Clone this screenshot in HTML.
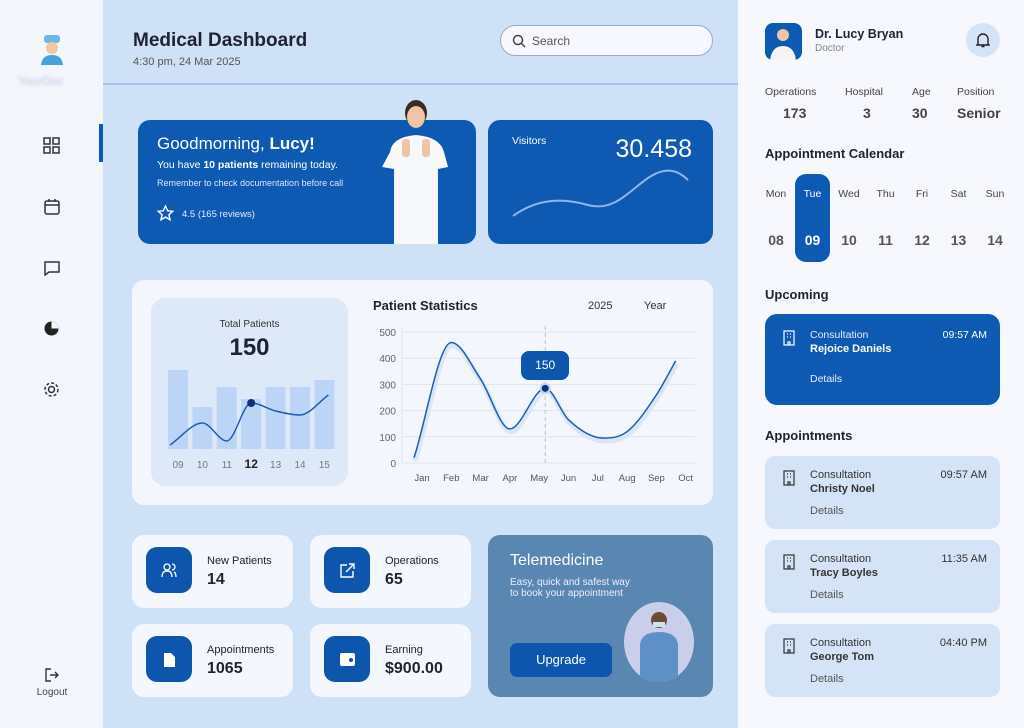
<!DOCTYPE html>
<html><head><meta charset="utf-8"><style>
*{box-sizing:border-box;margin:0;padding:0}
body{width:1024px;height:728px;overflow:hidden;background:#cfe1f6;font-family:"Liberation Sans",sans-serif;color:#1f2230;position:relative}
.a{position:absolute}
.card{position:absolute;border-radius:12px}
.w{background:#f4f7fe}
.blue{background:#0e59b1;color:#fff}
.ic{position:absolute;width:46px;height:46px;border-radius:11px;background:#0e55ad}
.lbl{font-size:11px;color:#222}
.val{font-size:16px;font-weight:bold;color:#1f2230}
.appt{position:absolute;left:765px;width:235px;height:73px;border-radius:10px;background:#d4e3f6}
.appt .t1{position:absolute;left:45px;top:13px;font-size:11px;color:#333}
.appt .t2{position:absolute;left:45px;top:27px;font-size:11px;font-weight:bold;color:#333}
.appt .tm{position:absolute;right:13px;top:13px;font-size:11px;color:#333}
.appt .d{position:absolute;left:45px;top:49px;font-size:11px;color:#555}
</style></head><body>
<!-- sidebar -->
<div class="a" style="left:0;top:0;width:103px;height:728px;background:#f4f6fd"></div>
<div class="a" style="left:39px;top:34px;width:24px;height:30px">
<svg width="26" height="32"><rect x="5" y="1" width="16" height="8" rx="3" fill="#6fb6e8"/><circle cx="13" cy="14" r="6" fill="#f0c9a0"/><path d="M2 31 Q3 21 13 21 Q23 21 24 31Z" fill="#4aa0dc"/></svg></div>
<div class="a" style="left:18px;top:74px;font-size:12px;color:#b8c6dc;filter:blur(1.5px)">YourDoc</div>
<div class="a" style="left:99px;top:124px;width:4px;height:38px;background:#0e59b1"></div>
<div class="a" style="left:43px;top:137px"><svg width="17" height="17" fill="none" stroke="#333" stroke-width="1.5"><rect x="1" y="1" width="6" height="6"/><rect x="10" y="1" width="6" height="6"/><rect x="1" y="10" width="6" height="6"/><rect x="10" y="10" width="6" height="6"/></svg></div>
<div class="a" style="left:44px;top:199px"><svg width="16" height="16" fill="none" stroke="#333" stroke-width="1.5"><rect x="1" y="2" width="14" height="13" rx="2"/><line x1="1" y1="6" x2="15" y2="6"/><line x1="5" y1="0" x2="5" y2="3"/><line x1="11" y1="0" x2="11" y2="3"/></svg></div>
<div class="a" style="left:44px;top:260px"><svg width="16" height="16" fill="none" stroke="#333" stroke-width="1.5"><path d="M1 2h14v10H5l-4 3z"/></svg></div>
<div class="a" style="left:44px;top:321px"><svg width="15" height="15"><circle cx="7.5" cy="7.5" r="7" fill="#222"/><path d="M7.5 0.5V7.5H14.5A7 7 0 0 0 7.5 0.5Z" fill="#f4f6fd"/></svg></div>
<div class="a" style="left:43px;top:381px"><svg width="17" height="17" fill="none" stroke="#333" stroke-width="1.5"><circle cx="8.5" cy="8.5" r="3"/><circle cx="8.5" cy="8.5" r="6.5" stroke-dasharray="3 2"/></svg></div>
<div class="a" style="left:34px;top:668px;width:36px;text-align:center;font-size:10px;color:#444"><svg width="14" height="14" fill="none" stroke="#333" stroke-width="1.4"><path d="M6 1H1v12h5M5 7h8M10 4l3 3-3 3"/></svg><div style="margin-top:2px">Logout</div></div>

<!-- header -->
<div class="a" style="left:133px;top:30px;font-size:19px;font-weight:bold;color:#1f2230">Medical Dashboard</div>
<div class="a" style="left:133px;top:56px;font-size:11px;color:#555">4:30 pm, 24 Mar 2025</div>
<div class="a" style="left:500px;top:25px;width:213px;height:31px;border-radius:16px;background:#f6f8fe;border:1px solid #9aa9bf">
<svg class="a" style="left:11px;top:8px" width="14" height="14" fill="none" stroke="#444" stroke-width="1.5"><circle cx="6" cy="6" r="4.5"/><line x1="9.5" y1="9.5" x2="13" y2="13"/></svg>
<span class="a" style="left:31px;top:8px;font-size:12px;color:#555">Search</span></div>
<div class="a" style="left:103px;top:83px;width:635px;height:2px;background:#a3c4e6"></div>

<!-- greeting -->
<div class="card blue" style="left:138px;top:120px;width:338px;height:124px">
<div class="a" style="left:19px;top:14px;font-size:17px">Goodmorning, <b>Lucy!</b></div>
<div class="a" style="left:19px;top:39px;font-size:10.5px">You have <b>10 patients</b> remaining today.</div>
<div class="a" style="left:19px;top:58px;font-size:9px;color:#dfe8f7">Remember to check documentation before call</div>
<svg class="a" style="left:19px;top:85px" width="17" height="17" fill="none" stroke="#fff" stroke-width="1.4"><path d="M8.5 1l2.2 4.8 5 .5-3.8 3.4 1.1 5-4.5-2.6-4.5 2.6 1.1-5L1.3 6.3l5-.5z"/></svg>
<div class="a" style="left:44px;top:89px;font-size:9.5px;color:#e4ecf8">4.5 (165 reviews)</div>
</div>
<div class="a" style="left:378px;top:97px;width:72px;height:147px">
<svg width="72" height="147"><ellipse cx="38" cy="16" rx="11" ry="13" fill="#3b2a22"/><ellipse cx="38" cy="20" rx="9" ry="11" fill="#f0c5a6"/><path d="M12 55 Q14 40 38 38 Q62 40 66 55 L70 70 L60 72 L60 147 H16 V72 L4 70Z" fill="#f7f8fa"/><rect x="24" y="42" width="8" height="18" rx="3" fill="#f0c5a6"/><rect x="44" y="42" width="8" height="18" rx="3" fill="#f0c5a6"/></svg></div>

<!-- visitors -->
<div class="card blue" style="left:488px;top:120px;width:225px;height:124px">
<div class="a" style="left:24px;top:15px;font-size:10.5px">Visitors</div>
<div class="a" style="right:21px;top:15px;font-size:25px">30.458</div>
<svg class="a" style="left:0;top:0" width="225" height="124"><path d="M25 96 C50 78 75 78 100 85 C125 92 140 72 160 58 C178 46 190 50 200 60" fill="none" stroke="#8fb6ea" stroke-width="2"/></svg>
</div>

<!-- stats card -->
<div class="card" style="left:132px;top:280px;width:581px;height:225px;background:#f4f6fd"></div>
<div class="card" style="left:151px;top:298px;width:197px;height:188px;background:#dde8f8;border-radius:14px">
<div class="a" style="left:0;width:197px;text-align:center;top:21px;font-size:10px;color:#333">Total Patients</div>
<div class="a" style="left:0;width:197px;text-align:center;top:36px;font-size:24px;font-weight:bold;color:#1f2230">150</div>
</div>
<svg class="a" style="left:0;top:0" width="1024" height="728" id="charts"></svg>
<div class="a" style="left:373px;top:298px;font-size:13px;font-weight:bold">Patient Statistics</div>
<div class="a" style="left:588px;top:300px;font-size:11px;color:#333">2025</div>
<div class="a" style="left:644px;top:300px;font-size:11px;color:#333">Year</div>
<div class="a" id="tip" style="width:48px;height:29px;border-radius:8px;background:#0e55ad;color:#fff;font-size:12px;text-align:center;line-height:29px"></div>

<!-- small stat cards -->
<div class="card w" style="left:132px;top:535px;width:161px;height:73px"><div class="ic" style="left:14px;top:12px"></div>
<svg class="a" style="left:29px;top:27px" width="16" height="16" fill="none" stroke="#fff" stroke-width="1.3"><circle cx="6" cy="5" r="3"/><path d="M1 15q0-6 5-6t5 6M11 2a3 3 0 0 1 0 6M13 10q2 1 2 5"/></svg>
<div class="a lbl" style="left:75px;top:20px">New Patients</div><div class="a val" style="left:75px;top:36px">14</div></div>
<div class="card w" style="left:310px;top:535px;width:161px;height:73px"><div class="ic" style="left:14px;top:12px"></div>
<svg class="a" style="left:30px;top:28px" width="15" height="15" fill="none" stroke="#fff" stroke-width="1.4"><path d="M7 2H1v12h12V8M9 1h5v5M14 1L6 9"/></svg>
<div class="a lbl" style="left:75px;top:20px">Operations</div><div class="a val" style="left:75px;top:36px">65</div></div>
<div class="card w" style="left:132px;top:624px;width:161px;height:73px"><div class="ic" style="left:14px;top:12px"></div>
<svg class="a" style="left:32px;top:29px" width="11" height="14"><path d="M0 0h7l4 4v10H0z" fill="#fff"/></svg>
<div class="a lbl" style="left:75px;top:20px">Appointments</div><div class="a val" style="left:75px;top:36px">1065</div></div>
<div class="card w" style="left:310px;top:624px;width:161px;height:73px"><div class="ic" style="left:14px;top:12px"></div>
<svg class="a" style="left:30px;top:29px" width="15" height="13"><rect width="15" height="13" rx="2" fill="#fff"/><circle cx="11" cy="7" r="2" fill="#0e55ad"/></svg>
<div class="a lbl" style="left:75px;top:20px">Earning</div><div class="a val" style="left:75px;top:36px">$900.00</div></div>

<!-- telemedicine -->
<div class="card" style="left:488px;top:535px;width:225px;height:162px;background:#5a87b2;color:#fff">
<div class="a" style="left:22px;top:17px;font-size:16px">Telemedicine</div>
<div class="a" style="left:22px;top:42px;font-size:10px;line-height:11px;color:#eef">Easy, quick and safest way<br>to book your appointment</div>
<div class="a" style="left:22px;top:108px;width:102px;height:34px;border-radius:7px;background:#0e55ad;text-align:center;line-height:34px;font-size:13px">Upgrade</div>
<div class="a" style="left:136px;top:67px;width:70px;height:80px;border-radius:50%;background:#c9cfea;overflow:hidden"><svg width="70" height="80"><circle cx="35" cy="18" r="8" fill="#6b4a36"/><rect x="29" y="20" width="12" height="5" fill="#cfe3f4"/><path d="M16 80V42q2-12 19-12t19 12V80z" fill="#5e8fc7"/></svg></div>
</div>

<!-- right panel -->
<div class="a" style="left:738px;top:0;width:286px;height:728px;background:#f6f8fe"></div>
<div class="a" style="left:765px;top:23px;width:37px;height:37px;border-radius:8px;background:#0e59b1;overflow:hidden"><svg width="37" height="37"><circle cx="18" cy="12" r="6" fill="#f0c5a6"/><path d="M5 37q2-14 13-14t13 14z" fill="#f4f4f6"/></svg></div>
<div class="a" style="left:815px;top:27px;font-size:12.5px;font-weight:bold">Dr. Lucy Bryan</div>
<div class="a" style="left:815px;top:43px;font-size:10px;color:#888">Doctor</div>
<div class="a" style="left:966px;top:23px;width:34px;height:34px;border-radius:50%;background:#d4e3f6"><svg class="a" style="left:10px;top:9px" width="14" height="16" fill="none" stroke="#222" stroke-width="1.4"><path d="M2 12V7a5 5 0 0 1 10 0v5l1 1H1zM5.5 14.5h3"/></svg></div>
<div class="a" style="left:765px;top:86px;width:240px;font-size:10.5px;color:#444">
<span class="a" style="left:0">Operations</span><span class="a" style="left:80px">Hospital</span><span class="a" style="left:147px">Age</span><span class="a" style="left:192px">Position</span>
<b class="a" style="left:18px;top:19px;font-size:14px;color:#444">173</b><b class="a" style="left:98px;top:19px;font-size:14px;color:#444">3</b><b class="a" style="left:147px;top:19px;font-size:14px;color:#444">30</b><b class="a" style="left:192px;top:19px;font-size:14px;color:#444">Senior</b></div>
<div class="a" style="left:765px;top:146px;font-size:13px;font-weight:bold">Appointment Calendar</div>
<div class="a" style="left:795px;top:174px;width:35px;height:88px;border-radius:11px;background:#0e59b1"></div>
<div id="cal"></div>
<div class="a" style="left:765px;top:287px;font-size:13px;font-weight:bold">Upcoming</div>
<div class="card blue" style="left:765px;top:314px;width:235px;height:91px">
<svg class="a" style="left:18px;top:16px" width="12" height="16" fill="none" stroke="#fff" stroke-width="1.2"><rect x="1" y="1" width="10" height="14"/><path d="M4 4h1M7 4h1M4 7h1M7 7h1M5 15v-3h2v3"/></svg>
<div class="a" style="left:45px;top:15px;font-size:10.5px;color:#e8eef9">Consultation</div>
<div class="a" style="left:45px;top:29px;font-size:11px;font-weight:bold">Rejoice Daniels</div>
<div class="a" style="right:13px;top:15px;font-size:10.5px">09:57 AM</div>
<div class="a" style="left:45px;top:59px;font-size:10.5px;color:#e8eef9">Details</div></div>
<div class="a" style="left:765px;top:428px;font-size:13px;font-weight:bold">Appointments</div>
<div id="appts"></div>

<script>
// Patient statistics data
const months=["Jan","Feb","Mar","Apr","May","Jun","Jul","Aug","Sep","Oct"];
const patients=[20,460,320,130,285,165,95,120,260,390];
const yTicks=[0,100,200,300,400,500];
// Total patients mini-chart
const days=["09","10","11","12","13","14","15"];
const dayBars=[79,42,62,50,62,62,69];
const dayLine=[4,26,8,46,38,34,54];
const highlightMonth=4, highlightDay=3, tooltipValue=150;
// calendar
const calDays=["Mon","Tue","Wed","Thu","Fri","Sat","Sun"];
const calDates=["08","09","10","11","12","13","14"];
const apptTypes=["Consultation","Consultation","Consultation"];
const apptNames=["Christy Noel","Tracy Boyles","George Tom"];
const apptTimes=["09:57 AM","11:35 AM","04:40 PM"];

const NS="http://www.w3.org/2000/svg",svg=document.getElementById('charts');
function mk(t,a,p){const e=document.createElementNS(NS,t);for(const k in a)e.setAttribute(k,a[k]);(p||svg).appendChild(e);return e;}
// monotone cubic (Fritsch-Carlson)
function smooth(p){const n=p.length,d=[],m=[];
for(let i=0;i<n-1;i++)d.push((p[i+1][1]-p[i][1])/(p[i+1][0]-p[i][0]));
m[0]=d[0];m[n-1]=d[n-2];
for(let i=1;i<n-1;i++)m[i]=(d[i-1]*d[i]<=0)?0:(d[i-1]+d[i])/2;
let s="M"+p[0][0]+" "+p[0][1];
for(let i=0;i<n-1;i++){const h=(p[i+1][0]-p[i][0])/3;
s+=" C"+(p[i][0]+h)+" "+(p[i][1]+m[i]*h)+" "+(p[i+1][0]-h)+" "+(p[i+1][1]-m[i+1]*h)+" "+p[i+1][0]+" "+p[i+1][1];}
return s;}
// main chart axes
const X0=422,XS=29.3,Y0=463,YS=131/500;
const x=i=>X0+i*XS, y=v=>Y0-v*YS;
yTicks.forEach(v=>{const l=mk('line',{x1:402,x2:695,y1:y(v),y2:y(v),stroke:'#e0e4ef','stroke-width':1});

const t=mk('text',{x:396,y:y(v)+4,'text-anchor':'end','font-size':10,fill:'#666'});t.textContent=v;
});
mk('line',{x1:402,x2:402,y1:328,y2:463,stroke:'#e0e4ef'});
months.forEach((m,i)=>{const t=mk('text',{x:x(i),y:481,'text-anchor':'middle','font-size':9.5,fill:'#555'});t.textContent=m;
});
const pts=patients.map((v,i)=>[x(i)+(i==0?-8:i==9?-10:i==4?6:i==6?6:0),y(v)]);
const hx=pts[highlightMonth][0];
const vl=mk('line',{x1:hx,x2:hx,y1:326,y2:463,stroke:'#b8bfcc','stroke-dasharray':'4 3'});

const sh=mk('path',{d:smooth(pts),fill:'none',stroke:'#dbe5f5','stroke-width':5,transform:'translate(1,3)'});

const ln=mk('path',{d:smooth(pts),fill:'none',stroke:'#1a5fb4','stroke-width':1.5});

const pt=mk('circle',{cx:pts[highlightMonth][0],cy:pts[highlightMonth][1],r:4.5,fill:'#0b2f7a',stroke:'#bcd0ef','stroke-width':2});

const tip=document.getElementById('tip');tip.textContent=tooltipValue;tip.style.left=(pts[highlightMonth][0]-24)+'px';tip.style.top=(pts[highlightMonth][1]-37)+'px';
// mini chart
const BX=178,BS=24.4,BB=449;
dayBars.forEach((v,i)=>{const r=mk('rect',{x:BX+i*BS-10,y:BB-v,width:20,height:v,fill:'#bcd5f7'});

const t=mk('text',{x:BX+i*BS,y:468,'text-anchor':'middle','font-size':i==highlightDay?12:10,'font-weight':i==highlightDay?'bold':'normal',fill:i==highlightDay?'#222':'#777'});t.textContent=days[i];
});
const lp=dayLine.map((v,i)=>[BX+i*BS+(i==0?-8:i==6?4:0),BB-v]);
const ml=mk('path',{d:smooth(lp),fill:'none',stroke:'#1a5fb4','stroke-width':1.5});

const mp=mk('circle',{cx:lp[highlightDay][0],cy:lp[highlightDay][1],r:4,fill:'#0b2f7a'});

// calendar
const cal=document.getElementById('cal');
calDays.forEach((d,i)=>{const cx=776+i*36.5;const sel=i==1;
const a=document.createElement('div');a.className='a';a.style.cssText=`left:${cx-20}px;width:40px;text-align:center;top:188px;font-size:10.5px;color:${sel?'#fff':'#444'}`;a.textContent=d;
cal.appendChild(a);
const b=document.createElement('div');b.className='a';b.style.cssText=`left:${cx-20}px;width:40px;text-align:center;top:232px;font-size:14px;font-weight:bold;color:${sel?'#fff':'#555'}`;b.textContent=calDates[i];
cal.appendChild(b);});
const ap=document.getElementById('appts');
apptNames.forEach((n,i)=>{const c=document.createElement('div');c.className='appt';c.style.top=(456+i*84)+'px';

c.innerHTML=`<svg class="a" style="left:18px;top:14px" width="12" height="16" fill="none" stroke="#333" stroke-width="1.2"><rect x="1" y="1" width="10" height="14"/><path d="M4 4h1M7 4h1M4 7h1M7 7h1M5 15v-3h2v3"/></svg><div class="t1">${apptTypes[i]}</div><div class="t2">${n}</div><div class="tm">${apptTimes[i]}</div><div class="d">Details</div>`;ap.appendChild(c);});
</script>
</body></html>
